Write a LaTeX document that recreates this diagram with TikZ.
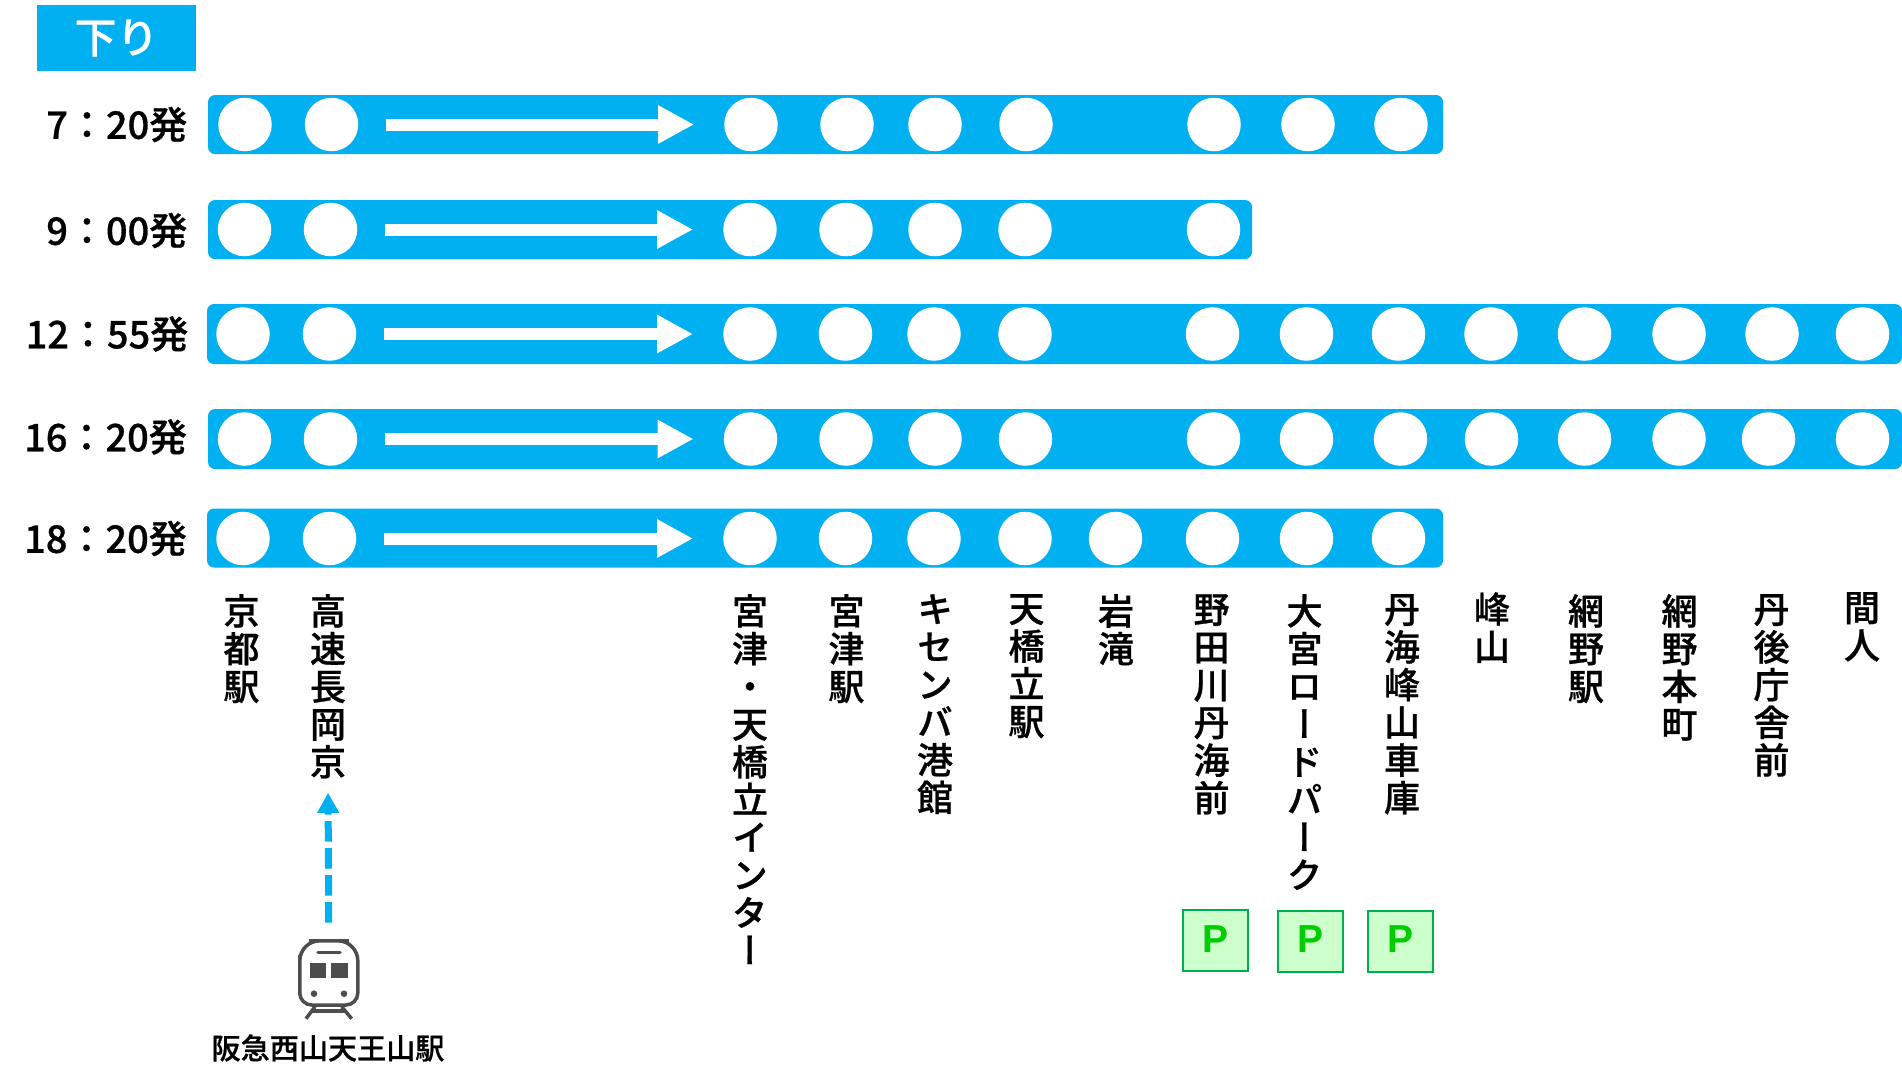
\documentclass[tikz,border=0pt]{standalone}
\usepackage{fontspec}
\setmainfont{Noto Sans CJK JP}[BoldFont={Noto Sans CJK JP Medium},BoldFeatures={FakeBold=0.7}]
\newfontfamily\vertjp{Noto Sans CJK JP}[BoldFont={Noto Sans CJK JP Medium},BoldFeatures={FakeBold=0.7},RawFeature=+vert]
\newfontfamily\parkfont{Liberation Sans}
\usepackage{tikz}
\usetikzlibrary{arrows.meta}
\definecolor{barblue}{HTML}{00B0F0}
\definecolor{iconGray}{HTML}{4D4D4D}
\definecolor{parkFill}{HTML}{CCFFCC}
\definecolor{parkEdge}{HTML}{00B050}
\definecolor{parkText}{HTML}{00CC00}
\tikzset{
  rowbar/.style={fill=barblue,rounded corners=7pt,minimum height=59pt,inner sep=0pt},
  stop/.style={circle,fill=white,minimum size=53.5pt,inner sep=0pt},
  flow/.style={white,line width=12pt,-{Triangle[length=36pt,width=36pt]},shorten <=28pt,shorten >=30pt},
  timelabel/.style={anchor=east,inner sep=0pt,font=\fontsize{38}{40}\selectfont\bfseries},
  station/.style={anchor=north,align=center,inner sep=0pt,font=\fontsize{36}{37.7}\selectfont\vertjp\bfseries},
  parkbox/.style={draw=parkEdge,line width=2pt,fill=parkFill,minimum width=65pt,minimum height=61pt,inner sep=0pt,text=parkText,font=\fontsize{39}{40}\selectfont\parkfont\bfseries},
  icon/.style={draw=iconGray,line width=3.5pt},
}
\begin{document}
\begin{tikzpicture}[x=1pt,y=-1pt]
  \useasboundingbox (0,0) rectangle (1902,1085);
  \node[fill=barblue,minimum width=159pt,minimum height=66pt,inner sep=0pt,text=white,font=\fontsize{42}{44}\selectfont\bfseries] (dir) at (116.5,38) {下り};
  % 7:20
  \node[timelabel] (t1) at (187.5,124.5) {7：20発};
  \node[rowbar,minimum width=1235pt] (bar1) at (825.5,124.5) {};
  \node[stop] (r1a) at (245,124.5) {};
  \node[stop] (r1b) at (331.5,124.5) {};
  \node[stop] (r1c) at (751,124.5) {};
  \node[stop] (r1d) at (847,124.5) {};
  \node[stop] (r1e) at (935,124.5) {};
  \node[stop] (r1f) at (1026,124.5) {};
  \node[stop] (r1g) at (1214,124.5) {};
  \node[stop] (r1h) at (1308,124.5) {};
  \node[stop] (r1i) at (1401,124.5) {};
  \path[flow] (r1b) edge (r1c);
  % 9:00
  \node[timelabel] (t2) at (187.5,230.5) {9：00発};
  \node[rowbar,minimum width=1044pt] (bar2) at (730,229.5) {};
  \node[stop] (r2a) at (244.5,229.5) {};
  \node[stop] (r2b) at (330.5,229.5) {};
  \node[stop] (r2c) at (750,229.5) {};
  \node[stop] (r2d) at (846,229.5) {};
  \node[stop] (r2e) at (935,229.5) {};
  \node[stop] (r2f) at (1025,229.5) {};
  \node[stop] (r2g) at (1213.5,229.5) {};
  \path[flow] (r2b) edge (r2c);
  % 12:55
  \node[timelabel] (t3) at (188.5,334) {12：55発};
  \node[rowbar,minimum width=1695pt,minimum height=60pt] (bar3) at (1054.5,334) {};
  \node[stop] (r3a) at (243,334) {};
  \node[stop] (r3b) at (329.5,334) {};
  \node[stop] (r3c) at (750,334) {};
  \node[stop] (r3d) at (845.5,334) {};
  \node[stop] (r3e) at (934,334) {};
  \node[stop] (r3f) at (1025,334) {};
  \node[stop] (r3g) at (1212.5,334) {};
  \node[stop] (r3h) at (1306.5,334) {};
  \node[stop] (r3i) at (1398.5,334) {};
  \node[stop] (r3j) at (1491,334) {};
  \node[stop] (r3k) at (1584.5,334) {};
  \node[stop] (r3l) at (1679,334) {};
  \node[stop] (r3m) at (1772,334) {};
  \node[stop] (r3n) at (1862.5,334) {};
  \path[flow] (r3b) edge (r3c);
  % 16:20
  \node[timelabel] (t4) at (187,437) {16：20発};
  \node[rowbar,minimum width=1694pt,minimum height=60pt] (bar4) at (1055,439) {};
  \node[stop] (r4a) at (244.5,439) {};
  \node[stop] (r4b) at (330.5,439) {};
  \node[stop] (r4c) at (750.5,439) {};
  \node[stop] (r4d) at (846,439) {};
  \node[stop] (r4e) at (935,439) {};
  \node[stop] (r4f) at (1025.5,439) {};
  \node[stop] (r4g) at (1213.5,439) {};
  \node[stop] (r4h) at (1306.5,439) {};
  \node[stop] (r4i) at (1400.5,439) {};
  \node[stop] (r4j) at (1491.5,439) {};
  \node[stop] (r4k) at (1584.5,439) {};
  \node[stop] (r4l) at (1679,439) {};
  \node[stop] (r4m) at (1768.5,439) {};
  \node[stop] (r4n) at (1862.5,439) {};
  \path[flow] (r4b) edge (r4c);
  % 18:20
  \node[timelabel] (t5) at (187,538.5) {18：20発};
  \node[rowbar,minimum width=1236pt] (bar5) at (825,538) {};
  \node[stop] (r5a) at (243,538.5) {};
  \node[stop] (r5b) at (329.5,538.5) {};
  \node[stop] (r5c) at (750,538.5) {};
  \node[stop] (r5d) at (845.5,538.5) {};
  \node[stop] (r5e) at (934,538.5) {};
  \node[stop] (r5f) at (1025,538.5) {};
  \node[stop] (r5g) at (1115.5,538.5) {};
  \node[stop] (r5h) at (1212.5,538.5) {};
  \node[stop] (r5i) at (1306.5,538.5) {};
  \node[stop] (r5j) at (1398.5,538.5) {};
  \path[flow] (r5b) edge (r5c);
  % station names
  \node[station] (kyoto) at (241.5,594) {京\\都\\駅};
  \node[station] (nagaoka) at (328,594) {高\\速\\長\\岡\\京};
  \node[station] (miyazuic) at (750,594) {宮\\津\\・\\天\\橋\\立\\イ\\ン\\タ\\ー};
  \node[station] (miyazu) at (846.5,594) {宮\\津\\駅};
  \node[station] (kisenba) at (935,594) {キ\\セ\\ン\\バ\\港\\館};
  \node[station] (amano) at (1026.5,594) {天\\橋\\立\\駅};
  \node[station] (iwataki) at (1116,594) {岩\\滝};
  \node[station] (nodagawa) at (1211.5,594) {野\\田\\川\\丹\\海\\前};
  \node[station] (omiya) at (1304.5,594) {大\\宮\\ロ\\ー\\ド\\パ\\ー\\ク};
  \node[station] (shako) at (1402,594) {丹\\海\\峰\\山\\車\\庫};
  \node[station] (mineyama) at (1492,592) {峰\\山};
  \node[station] (amino) at (1586,594) {網\\野\\駅};
  \node[station] (aminohon) at (1679.5,594) {網\\野\\本\\町};
  \node[station] (chosha) at (1771.5,594) {丹\\後\\庁\\舎\\前};
  \node[station] (taiza) at (1862,592) {間\\人};
  % parking
  \node[parkbox] (p1) at (1215.5,940.5) {\raisebox{3pt}{P}};
  \node[parkbox] (p2) at (1310.5,941) {\raisebox{3pt}{P}};
  \node[parkbox] (p3) at (1400.5,941) {\raisebox{3pt}{P}};
  % train
  \node[minimum width=62pt,minimum height=80pt,inner sep=0pt] (train) at (328.8,979) {};
  \draw[icon,rounded corners=20pt] (328.8,940.8) -- (299.8,940.8) -- (299.8,975) [rounded corners=12pt] -- (299.8,1005) -- (357.8,1005) -- (357.8,975) [rounded corners=20pt] -- (357.8,940.8) -- cycle;
  \draw[icon,line cap=round] (318,952.3) -- (340,952.3);
  \fill[iconGray] (309.7,963) rectangle (326.3,978.3);
  \fill[iconGray] (331,963) rectangle (348.3,978.3);
  \fill[iconGray] (314,993.7) circle (3.3pt);
  \fill[iconGray] (344,993.7) circle (3.3pt);
  \draw[icon] (315,1006.7) -- (306,1018.7);
  \draw[icon] (341.7,1006.7) -- (351.7,1018.7);
  \draw[icon] (311.7,1011) -- (345,1011);
  \node[inner sep=0pt,font=\fontsize{29.1}{30}\selectfont\bfseries] (hankyu) at (328,1048) {阪急西山天王山駅};
  \draw[barblue,line width=7pt,dash pattern=on 20.5pt off 6.5pt,-{Triangle[length=20.3pt,width=20.7pt]},shorten <=16.3pt,shorten >=14pt] (train.north) -- (nagaoka.south);
\end{tikzpicture}
\end{document}
